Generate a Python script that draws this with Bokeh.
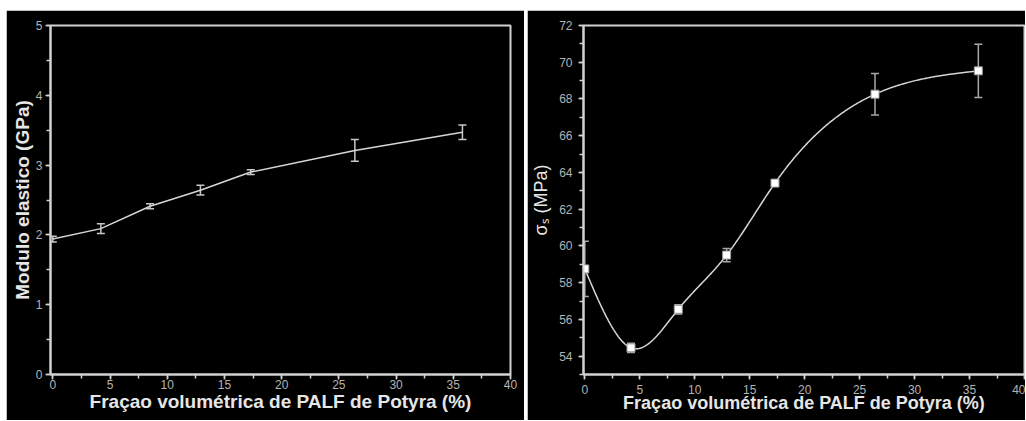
import numpy as np
from bokeh.plotting import figure
from bokeh.layouts import row, column
from bokeh.models import ColumnDataSource, Whisker, TeeHead, SingleIntervalTicker, Range1d, Spacer
from bokeh.embed import file_html
from bokeh.resources import INLINE

# ---------------- data ----------------
frac_left = [0, 4.2, 8.5, 12.9, 17.3, 26.4, 35.8]
modulus = [1.94, 2.09, 2.41, 2.64, 2.90, 3.21, 3.47]
modulus_err = [0.04, 0.07, 0.035, 0.07, 0.035, 0.155, 0.105]

frac_right = [0, 4.2, 8.5, 12.9, 17.3, 26.4, 35.8]
strength = [58.75, 54.45, 56.55, 59.5, 63.42, 68.26, 69.53]
strength_err = [1.5, 0.25, 0.25, 0.36, 0.15, 1.13, 1.45]

x_title = "Fraçao volumétrica de PALF de Potyra (%)"
left_y_title = "Modulo elastico (GPa)"
right_y_title = "σₛ (MPa)"

AX = "#d2d2d2"
TICKLAB = "#b4b4b4"
TITLE = "#e6e6e6"
FONT = "Liberation Sans"


def natural_spline(x, y, n=400):
    x = np.asarray(x, float)
    y = np.asarray(y, float)
    k = len(x)
    h = np.diff(x)
    A = np.zeros((k, k))
    b = np.zeros(k)
    A[0, 0] = 1
    A[-1, -1] = 1
    for i in range(1, k - 1):
        A[i, i - 1] = h[i - 1]
        A[i, i] = 2 * (h[i - 1] + h[i])
        A[i, i + 1] = h[i]
        b[i] = 6 * ((y[i + 1] - y[i]) / h[i] - (y[i] - y[i - 1]) / h[i - 1])
    M = np.linalg.solve(A, b)
    xs = np.linspace(x[0], x[-1], n)
    idx = np.clip(np.searchsorted(x, xs) - 1, 0, k - 2)
    hi = h[idx]
    t1 = x[idx + 1] - xs
    t0 = xs - x[idx]
    ys = (M[idx] * t1 ** 3 / (6 * hi) + M[idx + 1] * t0 ** 3 / (6 * hi)
          + (y[idx] / hi - M[idx] * hi / 6) * t1
          + (y[idx + 1] / hi - M[idx + 1] * hi / 6) * t0)
    return xs, ys


def style(p, xint, yint, xtitle_size, ytitle_bold, ytitle_size,
          y_lab_standoff, y_title_standoff, x_lab_standoff, x_title_standoff):
    p.background_fill_color = "black"
    p.border_fill_color = "black"
    p.outline_line_color = AX
    p.outline_line_width = 2
    p.grid.visible = False
    p.xaxis.ticker = SingleIntervalTicker(interval=xint, num_minor_ticks=2)
    p.yaxis.ticker = SingleIntervalTicker(interval=yint, num_minor_ticks=2)
    for ax in (p.xaxis[0], p.yaxis[0]):
        ax.axis_line_color = AX
        ax.axis_line_width = 2
        ax.major_tick_line_color = AX
        ax.minor_tick_line_color = AX
        ax.major_tick_line_width = 1.5
        ax.minor_tick_line_width = 1.5
        ax.major_tick_in = 0
        ax.major_tick_out = 5
        ax.minor_tick_in = 0
        ax.minor_tick_out = 4
        ax.major_label_text_color = TICKLAB
        ax.major_label_text_font = FONT
        ax.major_label_text_font_size = "12px"
        ax.axis_label_text_color = TITLE
        ax.axis_label_text_font = FONT
    p.xaxis.major_label_standoff = x_lab_standoff
    p.yaxis.major_label_standoff = y_lab_standoff
    p.xaxis.axis_label_text_font_style = "bold"
    p.xaxis.axis_label_text_font_size = xtitle_size
    p.xaxis.axis_label_standoff = x_title_standoff
    p.yaxis.axis_label_text_font_style = "bold" if ytitle_bold else "normal"
    p.yaxis.axis_label_text_font_size = ytitle_size
    p.yaxis.axis_label_standoff = y_title_standoff


# ---------------- left panel ----------------
p1 = figure(width=518, height=410, output_backend="svg", toolbar_location=None,
            x_range=Range1d(-0.2, 40), y_range=Range1d(0, 5),
            x_axis_label=x_title, y_axis_label=left_y_title,
            min_border_left=44, min_border_right=14, min_border_top=13, min_border_bottom=43)
style(p1, 5, 1, "19px", True, "19px", 3, 0, 0, -1)
src1 = ColumnDataSource(dict(x=frac_left, y=modulus,
                             lo=[v - e for v, e in zip(modulus, modulus_err)],
                             hi=[v + e for v, e in zip(modulus, modulus_err)]))
p1.line("x", "y", source=src1, line_color="#d6d6d6", line_width=1.5)
p1.add_layout(Whisker(source=src1, base="x", upper="hi", lower="lo", dimension="height",
                      line_color="#c8c8c8", line_width=1.5,
                      upper_head=TeeHead(size=8, line_color="#c8c8c8", line_width=1.5),
                      lower_head=TeeHead(size=8, line_color="#c8c8c8", line_width=1.5)))

# ---------------- right panel ----------------
p2 = figure(width=498, height=410, output_backend="svg", toolbar_location=None,
            x_range=Range1d(-0.12, 40), y_range=Range1d(53, 72),
            x_axis_label=x_title, y_axis_label=right_y_title,
            min_border_left=56, min_border_right=1, min_border_top=15, min_border_bottom=46)
style(p2, 5, 2, "18px", False, "18px", 6, 5, 5, -4)
src2 = ColumnDataSource(dict(x=frac_right, y=strength,
                             lo=[v - e for v, e in zip(strength, strength_err)],
                             hi=[v + e for v, e in zip(strength, strength_err)]))
sx, sy = natural_spline(frac_right, strength)
p2.line(sx, sy, line_color="#d6d6d6", line_width=1.5)
p2.add_layout(Whisker(source=src2, base="x", upper="hi", lower="lo", dimension="height",
                      line_color="#a8a8a8", line_width=1.5,
                      upper_head=TeeHead(size=8, line_color="#a8a8a8", line_width=1.5),
                      lower_head=TeeHead(size=8, line_color="#a8a8a8", line_width=1.5)))
p2.scatter("x", "y", source=src2, marker="square", size=8,
           fill_color="white", line_color="#9a9a9a", line_width=1)

layout = column(Spacer(height=10),
                row(Spacer(width=6), p1, Spacer(width=3), p2))
open("out.html", "w").write(file_html(layout, INLINE))
